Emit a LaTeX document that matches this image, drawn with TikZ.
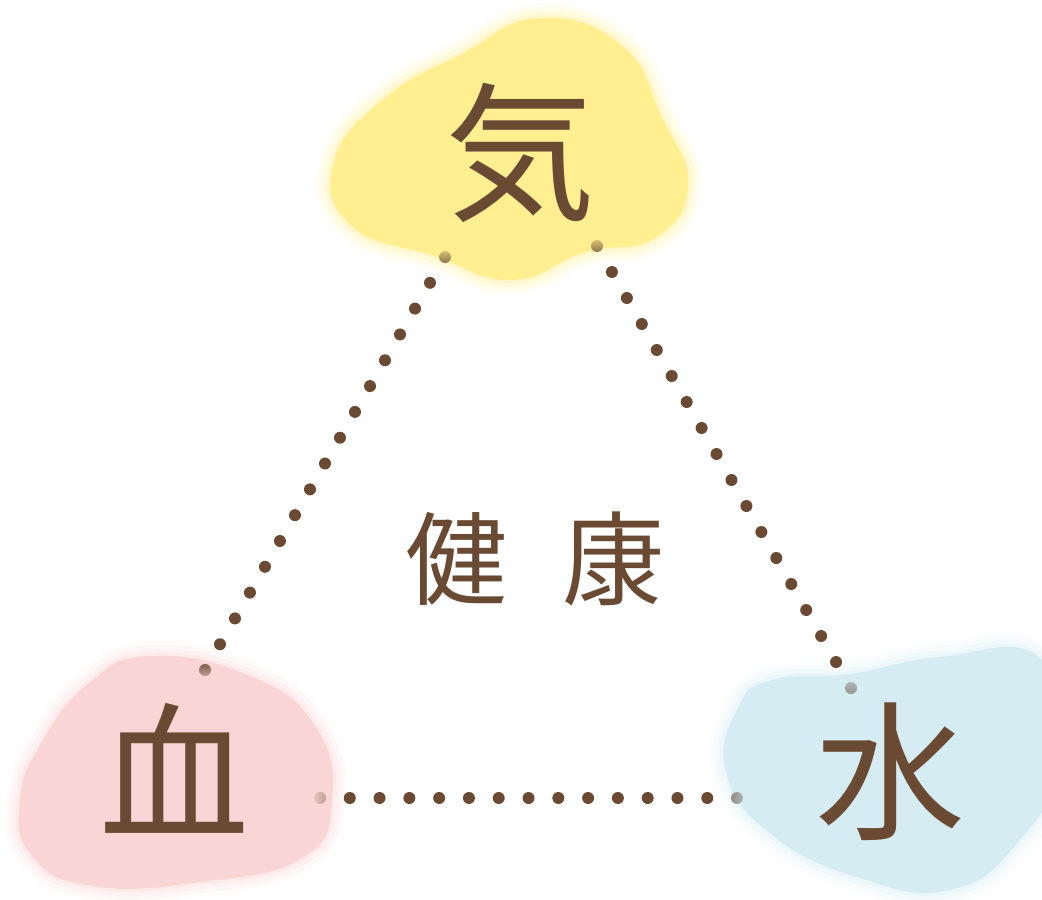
\documentclass[tikz,border=0pt]{standalone}
\usepackage{fontspec}
\newfontfamily\jpfont{Noto Sans CJK JP}
\definecolor{kibrown}{HTML}{6B4A33}
\definecolor{kiyellow}{HTML}{FFEF90}
\definecolor{ketsupink}{HTML}{F9D5D5}
\definecolor{suiblue}{HTML}{D5ECF2}
\tikzset{x=1pt, y=-1pt,
blob/.style={ % Soft edged colour patch
fill=#1,
preaction={draw=#1, line width=30pt, draw opacity=0.08},
preaction={draw=#1, line width=22pt, draw opacity=0.12},
preaction={draw=#1, line width=14pt, draw opacity=0.16},
preaction={draw=#1, line width=6pt, draw opacity=0.25}},
kanji/.style={ % Big characters
text=kibrown, inner sep=0pt,
font=\jpfont\fontsize{150pt}{150pt}\selectfont},
dotline/.style={ % Row of round dots, first and last left out
draw=kibrown, line width=12pt, line cap=round,
dash pattern=on 0pt off #1, dash phase=0.01pt,
shorten >=10pt},
enddot/.style={circle, inner sep=0pt, minimum size=12pt}}

\begin{document}
\begin{tikzpicture}
\useasboundingbox (0,0) rectangle (1042,900);
\path[blob=kiyellow] plot[smooth cycle, tension=0.8] coordinates {(540,18) (622,46) (662,118) (688,185) (655,238) (585,252) (512,280) (435,256) (352,226) (334,162) (385,98) (462,54)};
\path[blob=ketsupink] plot[smooth cycle, tension=0.8] coordinates {(150,656) (250,676) (315,726) (332,800) (302,858) (200,882) (92,886) (32,856) (20,800) (42,742) (88,684)};
\path[blob=suiblue] plot[smooth cycle, tension=0.8] coordinates {(772,680) (850,674) (940,657) (1040,658) (1060,760) (1018,842) (950,890) (860,878) (772,835) (726,772) (738,708)};
\node[enddot] (kiL) at (445,257) {};
\node[enddot] (kiR) at (597,246) {};
\node[enddot] (ketsuT) at (205,670) {};
\node[enddot] (ketsuR) at (320,798) {};
\node[enddot] (suiT) at (851,688) {};
\node[enddot] (suiL) at (737,798) {};
\draw[dotline=29.86pt] (kiL.center) -- (ketsuT.center);
\draw[dotline=29.99pt] (kiR.center) -- (suiT.center);
\draw[dotline=29.79pt] (ketsuR.center) -- (suiL.center);
\shade[top color=kibrown!30!kiyellow, bottom color=kibrown!75!kiyellow] (kiL) circle[radius=6pt];
\shade[top color=kibrown!30!kiyellow, bottom color=kibrown!75!kiyellow] (kiR) circle[radius=6pt];
\shade[top color=kibrown!85!ketsupink, bottom color=kibrown!40!ketsupink] (ketsuT) circle[radius=6pt];
\shade[left color=kibrown!12!ketsupink, right color=kibrown!40!ketsupink] (ketsuR) circle[radius=6pt];
\shade[top color=kibrown!25!suiblue!80!gray, bottom color=kibrown!50!suiblue!70!gray] (suiT) circle[radius=6pt];
\shade[left color=kibrown!55!suiblue!70!gray, right color=kibrown!25!suiblue!80!gray] (suiL) circle[radius=6pt];
\node[kanji] (ki) at (520,153) {気};
\node[kanji] (ketsu) at (174,768) {血};
\node[kanji] (sui) at (890,772) {水};
\node[kanji, font=\jpfont\fontsize{102pt}{102pt}\selectfont] (kenkou) at (535,559) {健\hspace{55pt}康};
\end{tikzpicture}
\end{document}
